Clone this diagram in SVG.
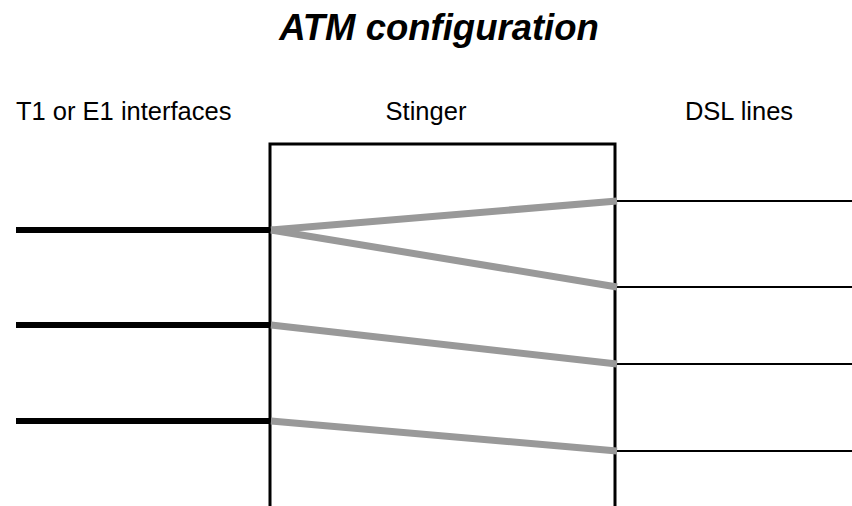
<svg xmlns="http://www.w3.org/2000/svg" width="852" height="506" viewBox="0 0 852 506">
<style>
text{font-family:"Liberation Sans",Arial,sans-serif;fill:#000}
.lbl{font-size:25.5px}
.title{font-size:36.5px;font-weight:bold;font-style:italic}
.box{stroke:#000;stroke-width:3;fill:none}
.trunk{stroke:#000;stroke-width:6}
.dsl{stroke:#000;stroke-width:2}
.conn{stroke:#999;stroke-width:7}
</style>
<rect width="852" height="506" fill="#fff"/>
<text class="title" x="439" y="40" text-anchor="middle">ATM configuration</text>
<g id="t1-label"><text class="lbl" x="16" y="120">T1 or E1 interfaces</text></g>
<g id="stinger">
<text class="lbl" x="426" y="120" text-anchor="middle">Stinger</text>
<path class="box" d="M270,506 V144 H615 V506"/>
</g>
<g id="dsl-label"><text class="lbl" x="739" y="120" text-anchor="middle">DSL lines</text></g>
<g id="trunks">
<line class="trunk" x1="16" y1="230" x2="270" y2="230"/>
<line class="trunk" x1="16" y1="325" x2="270" y2="325"/>
<line class="trunk" x1="16" y1="421" x2="270" y2="421"/>
</g>
<g id="dsl-lines">
<line class="dsl" x1="615" y1="201" x2="852" y2="201"/>
<line class="dsl" x1="615" y1="287" x2="852" y2="287"/>
<line class="dsl" x1="615" y1="364" x2="852" y2="364"/>
<line class="dsl" x1="615" y1="451" x2="852" y2="451"/>
</g>
<g id="connectors">
<line class="conn" x1="271" y1="230" x2="617" y2="201"/>
<line class="conn" x1="271" y1="230" x2="617" y2="287"/>
<line class="conn" x1="271" y1="325" x2="617" y2="364"/>
<line class="conn" x1="271" y1="421" x2="617" y2="451"/>
</g>
</svg>
